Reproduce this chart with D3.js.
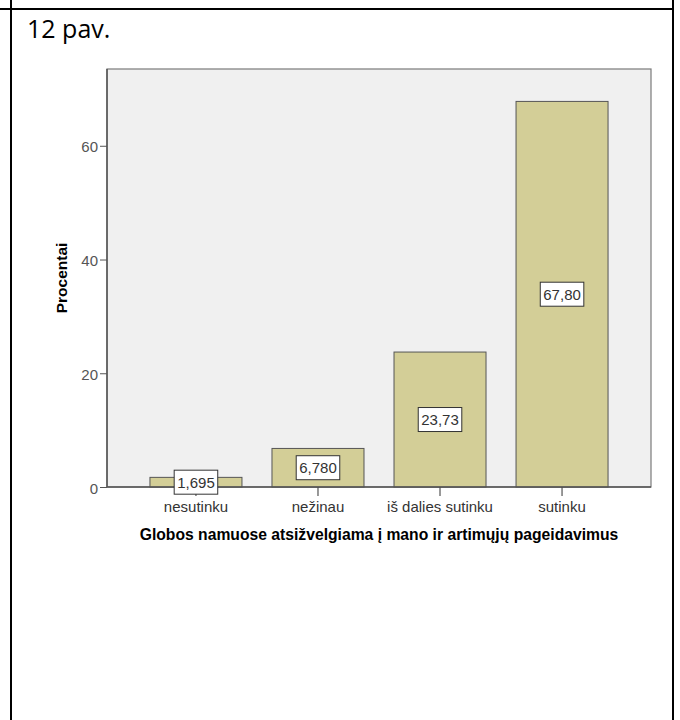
<!DOCTYPE html>
<html>
<head>
<meta charset="utf-8">
<script src="https://cdn.jsdelivr.net/npm/d3@7"></script>
<style>
  html, body { margin: 0; padding: 0; background: #ffffff; }
  svg { display: block; }
</style>
</head>
<body>
<script>
const categories = ["nesutinku", "nežinau", "iš dalies sutinku", "sutinku"];
const values = [1.695, 6.780, 23.73, 67.80];
const valueLabels = ["1,695", "6,780", "23,73", "67,80"];
const yTicks = [0, 20, 40, 60];
const figureLabel = "12 pav.";
const xTitle = "Globos namuose atsižvelgiama į mano ir artimųjų pageidavimus";
const yTitle = "Procentai";

const W = 680, H = 720;
const svg = d3.select("body").append("svg").attr("width", W).attr("height", H);

// table cell borders
svg.append("line").attr("x1", 0).attr("x2", 674).attr("y1", 9).attr("y2", 9)
  .attr("stroke", "#000").attr("stroke-width", 2);
svg.append("line").attr("x1", 11).attr("x2", 11).attr("y1", 0).attr("y2", H)
  .attr("stroke", "#000").attr("stroke-width", 2);
svg.append("line").attr("x1", 673).attr("x2", 673).attr("y1", 0).attr("y2", H)
  .attr("stroke", "#000").attr("stroke-width", 2);

svg.append("text").attr("x", 27).attr("y", 38)
  .attr("font-family", "'Open Sans', 'Noto Sans', sans-serif")
  .attr("font-size", 25).attr("fill", "#000").text(figureLabel);

const plot = { left: 107, right: 651, top: 69, bottom: 487 };

const x = d3.scaleBand().domain(categories)
  .range([plot.left, plot.right]).paddingInner(0.246).paddingOuter(0.352);
const y = d3.scaleLinear().domain([0, 73.5]).range([plot.bottom, plot.top]);

// plot background
svg.append("rect").attr("x", plot.left).attr("y", plot.top)
  .attr("width", plot.right - plot.left).attr("height", plot.bottom - plot.top)
  .attr("fill", "#f0f0f0").attr("stroke", "#7a7a7a").attr("stroke-width", 1.2);

// bars
svg.append("g").selectAll("rect").data(values).join("rect")
  .attr("x", (d, i) => x(categories[i]))
  .attr("y", d => y(d))
  .attr("width", x.bandwidth())
  .attr("height", d => y(0) - y(d))
  .attr("fill", "#d3ce97").attr("stroke", "#555").attr("stroke-width", 1);

// axes
const fontFam = "'Liberation Sans', Arial, sans-serif";
const yAxis = svg.append("g").attr("transform", `translate(${plot.left},0)`)
  .call(d3.axisLeft(y).tickValues(yTicks).tickSize(7).tickPadding(2).tickFormat(d3.format("d")));
yAxis.select(".domain").remove();
yAxis.selectAll("line").attr("stroke", "#555");
yAxis.selectAll("text").attr("font-family", fontFam).attr("font-size", 15).attr("fill", "#555").attr("dy", "0.4em");

const xAxis = svg.append("g").attr("transform", `translate(0,${plot.bottom})`)
  .call(d3.axisBottom(x).tickSize(9).tickPadding(3));
xAxis.select(".domain").remove();
xAxis.selectAll("line").attr("stroke", "#333");
xAxis.selectAll("text").attr("font-family", fontFam).attr("font-size", 15).attr("fill", "#333").attr("dy", "0.85em");

// axis lines (darker)
svg.append("line").attr("x1", plot.left).attr("x2", plot.left).attr("y1", plot.top).attr("y2", plot.bottom)
  .attr("stroke", "#555").attr("stroke-width", 1.5);
svg.append("line").attr("x1", plot.left).attr("x2", plot.right).attr("y1", plot.bottom).attr("y2", plot.bottom)
  .attr("stroke", "#555").attr("stroke-width", 1.5);

// value labels
const lab = svg.append("g").selectAll("g").data(values).join("g")
  .attr("transform", (d, i) => `translate(${x(categories[i]) + x.bandwidth() / 2},${(y(d) + y(0)) / 2})`);
lab.append("rect").attr("class", "box").attr("fill", "#fff").attr("stroke", "#333").attr("stroke-width", 1);
lab.append("text").attr("text-anchor", "middle").attr("dy", "0.36em")
  .attr("font-family", fontFam).attr("font-size", 15).attr("fill", "#333")
  .text((d, i) => valueLabels[i]);
lab.each(function () {
  const g = d3.select(this);
  const bb = g.select("text").node().getBBox();
  g.select("rect").attr("x", -bb.width / 2 - 3).attr("y", -12).attr("width", bb.width + 6).attr("height", 24);
});

// titles
svg.append("text").attr("x", (plot.left + plot.right) / 2).attr("y", 540)
  .attr("text-anchor", "middle").attr("font-family", fontFam).attr("font-weight", "bold")
  .attr("font-size", 15.7).attr("fill", "#000").text(xTitle);
svg.append("text").attr("transform", `translate(67,${(plot.top + plot.bottom) / 2}) rotate(-90)`)
  .attr("text-anchor", "middle").attr("font-family", fontFam).attr("font-weight", "bold")
  .attr("font-size", 15.5).attr("fill", "#000").text(yTitle);
</script>
</body>
</html>
